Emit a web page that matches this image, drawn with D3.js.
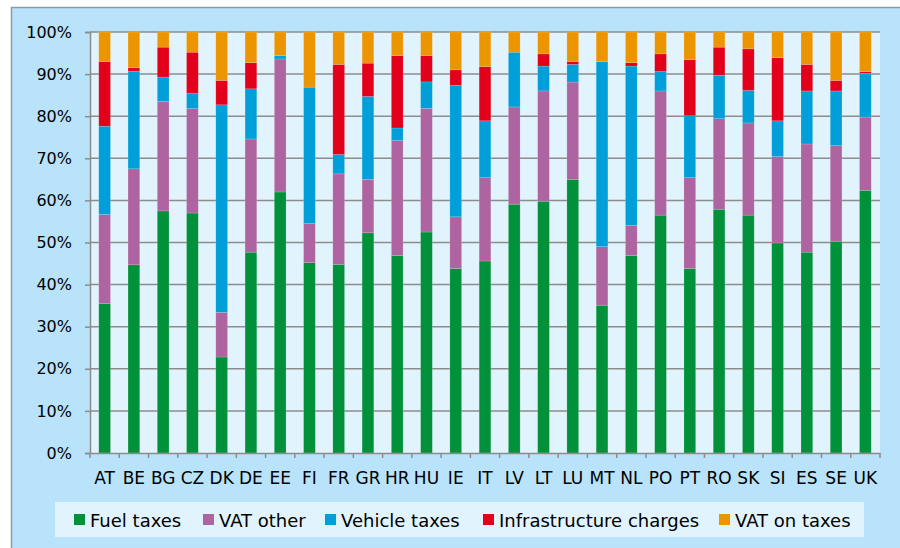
<!DOCTYPE html>
<html lang="en">
<head>
<meta charset="UTF-8">
<title>Tax shares by country</title>
<style>
  body { margin: 0; background: #fff; }
  svg text { font-family: "DejaVu Sans", Verdana, sans-serif; fill: #000; }
</style>
</head>
<body>
<svg id="chart" width="900" height="548"></svg>
<script src="https://d3js.org/d3.v7.min.js"></script>
<script>
// categories and series (share in %)
const countries = ["AT","BE","BG","CZ","DK","DE","EE","FI","FR","GR","HR","HU","IE","IT","LV","LT","LU","MT","NL","PO","PT","RO","SK","SI","ES","SE","UK"];
const fuelTaxes      = [35.5,44.7,57.5,57.0,22.8,47.7,62.0,45.2,44.8,52.3,46.9,52.7,43.8,45.6,59.1,59.8,65.0,35.1,46.9,56.5,43.8,57.9,56.5,49.9,47.7,50.3,62.4];
const vatOther       = [21.2,22.8,26.0,24.8,10.6,26.9,31.6, 9.3,21.5,12.7,27.3,29.5,12.3,19.8,23.1,26.2,23.1,13.9, 7.2,29.5,21.6,21.5,21.9,20.5,25.7,22.7,17.4];
const vehicleTaxes   = [21.0,23.2, 5.8, 3.7,49.3,11.9, 0.8,32.4, 4.6,19.7, 3.0, 6.3,31.2,13.5,13.0, 5.9, 4.2,44.0,37.8, 4.6,14.7,10.3, 7.7, 8.5,12.6,13.0,10.4];
const infraCharges   = [15.4, 0.8, 7.1, 9.7, 5.8, 6.2, 0.0, 0.0,21.4, 7.9,17.2, 6.3, 3.7,12.9, 0.0, 2.9, 0.7, 0.0, 0.8, 4.2,13.3, 6.7, 9.9,15.0, 6.3, 2.5, 0.4];
const vatOnTaxes     = [ 7.0, 8.5, 3.6, 4.8,11.5, 7.3, 5.6,13.1, 7.7, 7.4, 5.6, 5.6, 9.0, 8.2, 4.8, 5.2, 7.0, 7.0, 7.3, 5.2, 6.6, 3.6, 4.0, 6.1, 7.7,11.5, 9.4];
const seriesNames = ["Fuel taxes","VAT other","Vehicle taxes","Infrastructure charges","VAT on taxes"];
const yTicks = [0,10,20,30,40,50,60,70,80,90,100];

const colors = ["#00913a","#ae64a0","#009fd9","#e2001a","#ec9500"];
const allSeries = [fuelTaxes, vatOther, vehicleTaxes, infraCharges, vatOnTaxes];

// build rows for d3.stack, normalised to 100
const rows = countries.map((c, i) => {
    const row = {country: c};
    let sum = 0;
    allSeries.forEach(s => sum += s[i]);
    seriesNames.forEach((name, k) => row[name] = allSeries[k][i] * 100 / sum);
    return row;
});

const svg = d3.select("#chart");
const margin = {left: 90, right: 20, top: 32, bottom: 95};
const W = 900, H = 548;

// outer frame
svg.append("rect")
    .attr("x", 11.5).attr("y", 7.5)
    .attr("width", W).attr("height", H)
    .attr("fill", "#b9e3fb")
    .attr("stroke", "#8d9aa3").attr("stroke-width", 1.5);

const x = d3.scaleBand()
    .domain(countries)
    .range([margin.left, W - margin.right])
    .paddingInner(0.6).paddingOuter(0.3);

const y = d3.scaleLinear()
    .domain([0, 100])
    .range([H - margin.bottom, margin.top]);

// plot area
svg.append("rect")
    .attr("x", margin.left).attr("y", margin.top)
    .attr("width", W - margin.right - margin.left)
    .attr("height", y(0) - y(100))
    .attr("fill", "#e1f3fd");

// gridlines
svg.append("g")
    .selectAll("line")
    .data(yTicks.filter(d => d > 0))
    .join("line")
    .attr("x1", margin.left).attr("x2", W - margin.right)
    .attr("y1", d => y(d)).attr("y2", d => y(d))
    .attr("stroke", "#8c8c8c").attr("stroke-width", 1.5);

// bars
const stacked = d3.stack().keys(seriesNames)(rows);
svg.append("g")
    .selectAll("g")
    .data(stacked)
    .join("g")
    .attr("fill", (d, i) => colors[i])
    .selectAll("rect")
    .data(d => d)
    .join("rect")
    .attr("x", d => x(d.data.country))
    .attr("width", x.bandwidth())
    .attr("y", d => y(d[1]))
    .attr("height", d => y(d[0]) - y(d[1]))
    .attr("stroke", "rgba(255,255,255,0.25)")
    .attr("stroke-width", 0.6);

// y axis
const yAxis = svg.append("g")
    .attr("transform", `translate(${margin.left},0)`)
    .call(d3.axisLeft(y).tickValues(yTicks).tickFormat(d => d + "%").tickSize(5).tickPadding(13));
yAxis.select(".domain").attr("stroke", "#8c8c8c").attr("stroke-width", 1.5);
yAxis.selectAll(".tick line").attr("stroke", "#8c8c8c").attr("stroke-width", 1.5);
yAxis.selectAll(".tick text").attr("font-size", 16).attr("font-family", "DejaVu Sans").attr("fill", "#000");

// x axis (ticks between categories)
const xAxis = svg.append("g")
    .attr("transform", `translate(0,${y(0)})`)
    .call(d3.axisBottom(x).tickSize(0).tickPadding(19));
xAxis.select(".domain").attr("stroke", "#8c8c8c").attr("stroke-width", 1.5);
xAxis.selectAll(".tick text").attr("font-size", 17).attr("font-family", "DejaVu Sans").attr("fill", "#000");
const step = x.step();
xAxis.append("g")
    .selectAll("line")
    .data(d3.range(countries.length + 1))
    .join("line")
    .attr("x1", i => margin.left + i * step).attr("x2", i => margin.left + i * step)
    .attr("y1", 0).attr("y2", 5)
    .attr("stroke", "#8c8c8c").attr("stroke-width", 1.5);

// legend
svg.append("rect")
    .attr("x", 55).attr("y", 502)
    .attr("width", 809).attr("height", 35)
    .attr("fill", "#e1f3fd");
const legendX = [74, 203, 325, 483, 719];
const legend = svg.append("g")
    .selectAll("g")
    .data(seriesNames)
    .join("g")
    .attr("transform", (d, i) => `translate(${legendX[i]},514)`);
legend.append("rect")
    .attr("width", 11).attr("height", 11)
    .attr("fill", (d, i) => colors[i]);
legend.append("text")
    .attr("x", 16).attr("y", 13)
    .attr("font-size", 18)
    .text(d => d);
</script>
</body>
</html>
